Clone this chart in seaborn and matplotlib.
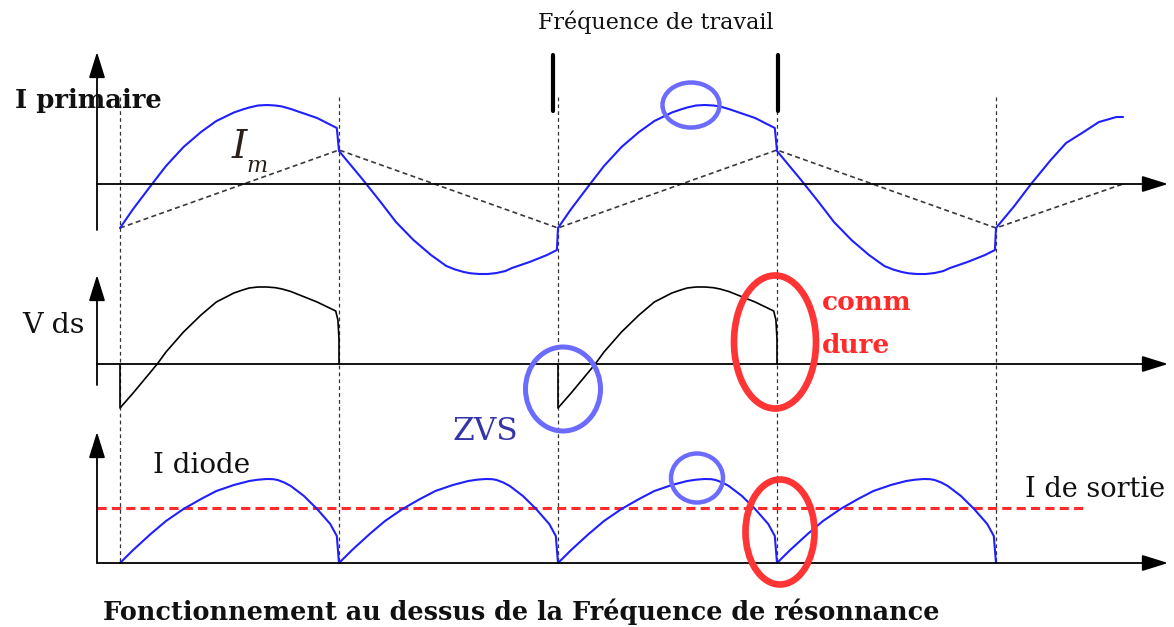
import numpy as np
import pandas as pd
import matplotlib
matplotlib.use("Agg")
import matplotlib.pyplot as plt
import seaborn as sns
from matplotlib.patches import Ellipse
from matplotlib.lines import Line2D

# ---------------------------------------------------------------- data
# time is counted in half switching periods; switching instants:
SWITCH_T = [0, 1, 2, 3, 4]

# primary current: rising half-wave and falling half-wave (t relative to the switching instant)
PRI_RISE_T = [0.00, 0.06, 0.15, 0.21, 0.29, 0.37, 0.44, 0.52, 0.56, 0.59, 0.63, 0.67, 0.71, 0.74, 0.78,
              0.82, 0.90, 0.99, 1.00]
PRI_RISE_V = [-44, -25, 1, 18, 37, 52, 63, 71.5, 74.5, 76.5, 78.5, 79, 78.5, 77.5, 75,
              72, 66, 56, 33]
PRI_FALL_T = [0.00, 0.11, 0.19, 0.26, 0.34, 0.42, 0.49, 0.53, 0.57, 0.60, 0.64, 0.68, 0.72, 0.76, 0.79,
              0.87, 0.95, 0.995, 1.00]
PRI_FALL_V = [33, 4, -18, -38, -56, -71, -82, -85.5, -88, -89.3, -90, -90, -89, -87, -84,
              -78, -71, -66, -44]
PRI_TAIL_T = [0.00, 0.08, 0.16, 0.25, 0.32, 0.40, 0.47, 0.55, 0.58]
PRI_TAIL_V = [-44, -23, 0, 24, 41, 52, 62, 67, 67]
PRI_SEQUENCE = ["rise", "fall", "rise", "fall", "tail"]

# magnetising current Im (triangle)
IM_T = [0, 1, 2, 3, 4, 4.58]
IM_V = [-44, 34, -44, 34, -44, 0]

# drain-source voltage during a conduction half period
VDS_ARC_T = [0.00, 0.00, 0.06, 0.17, 0.21, 0.29, 0.37, 0.44, 0.52, 0.56, 0.59, 0.63, 0.67, 0.71, 0.74,
             0.78, 0.82, 0.90, 0.985, 0.995, 1.00, 1.00]
VDS_ARC_V = [0, -44, -29, 0, 12, 32, 49, 62, 71, 74, 76, 77, 77, 76.3, 75,
             72.5, 69, 62, 53, 44, 25, 0]
VDS_ON = [0, 2]

# rectifier diode current, one arch per half period
DIODE_ARC_T = [0.00, 0.06, 0.14, 0.21, 0.29, 0.37, 0.44, 0.52, 0.59, 0.63, 0.67, 0.70, 0.72, 0.75, 0.78,
               0.84, 0.90, 0.96, 0.99, 1.00]
DIODE_ARC_V = [0, 13, 29, 42, 54, 64, 72, 78, 82, 83.3, 84, 83.8, 83, 80.5, 77,
               67, 54, 39, 27, 0]
DIODE_ON = [0, 1, 2, 3]

# output current level
I_OUT = 55
I_OUT_T_END = 4.40

# ---------------------------------------------------------------- style
sns.set_style("white")
plt.rcParams["font.family"] = ["DejaVu Serif"]

BLUE = "#1f1fff"
RED = "#ff2a2a"
RING_BLUE = "#6b6bff"
RING_RED = "#ff3535"

W, H = 1174, 627
fig = plt.figure(figsize=(W / 100, H / 100), dpi=100)

T0_PX, PX_PER_T = 120, 219
XLIM = (-T0_PX / PX_PER_T, (W - T0_PX) / PX_PER_T)
T_AXIS = (97 - T0_PX) / PX_PER_T
T_ARROW = (1168 - T0_PX) / PX_PER_T
ARROW = dict(arrowstyle="-|>,head_length=1.6,head_width=0.5", color="black",
             lw=1.3, shrinkA=0, shrinkB=0, mutation_scale=10)


def panel(zero_px, top_px, bottom_px):
    ax = fig.add_axes([0, 1 - bottom_px / H, 1, (bottom_px - top_px) / H])
    ax.patch.set_alpha(0)
    ax.set_axis_off()
    return ax, (zero_px - bottom_px, zero_px - top_px)


def finish(ax, ylim):
    ax.set_xlim(*XLIM)
    ax.set_ylim(*ylim)
    ax.set_axis_off()


def axes_arrows(ax, v_bottom, v_top):
    ax.annotate("", xy=(T_ARROW, 0), xytext=(T_AXIS, 0), arrowprops=ARROW, annotation_clip=False)
    ax.annotate("", xy=(T_AXIS, v_top), xytext=(T_AXIS, v_bottom), arrowprops=ARROW, annotation_clip=False)


def trace(ax, t, v, **kw):
    df = pd.DataFrame({"t": t, "v": v})
    sns.lineplot(data=df, x="t", y="v", ax=ax, sort=False, estimator=None, legend=False, **kw)


def text_px(x, y, s, **kw):
    fig.text(x / W, 1 - y / H, s, **kw)


def ring(cx, cy, w, h, color, lw):
    fig.add_artist(Ellipse((cx / W, 1 - cy / H), w / W, h / H, transform=fig.transFigure,
                           fill=False, ec=color, lw=lw))


# switching-instant guides across the three traces
guides = fig.add_axes([0, 0, 1, 1])
guides.patch.set_alpha(0)
guides.set_xlim(*XLIM)
guides.set_ylim(H, 0)
guides.set_axis_off()
guides.vlines(SWITCH_T, 97, 563, colors="#333333", lw=0.9, linestyles=(0, (3, 2.5)))

# ---------------------------------------------------------------- I primaire
ax1, lim1 = panel(184, 40, 290)
arcs = {"rise": (PRI_RISE_T, PRI_RISE_V), "fall": (PRI_FALL_T, PRI_FALL_V), "tail": (PRI_TAIL_T, PRI_TAIL_V)}
pri_t, pri_v = [], []
for start, kind in zip(SWITCH_T, PRI_SEQUENCE):
    tt, vv = arcs[kind]
    pri_t += [start + x for x in tt]
    pri_v += list(vv)
trace(ax1, IM_T, IM_V, color="#3a3a3a", lw=1.2, linestyle=(0, (3, 2)))
trace(ax1, pri_t, pri_v, color=BLUE, lw=1.5)
axes_arrows(ax1, -46, 132)
finish(ax1, lim1)

# ---------------------------------------------------------------- V ds
ax2, lim2 = panel(364, 270, 420)
for start in VDS_ON:
    trace(ax2, [start + x for x in VDS_ARC_T], VDS_ARC_V, color="black", lw=1.2)
axes_arrows(ax2, -21, 89)
finish(ax2, lim2)

# ---------------------------------------------------------------- I diode
ax3, lim3 = panel(563, 425, 600)
dio_t, dio_v = [], []
for start in DIODE_ON:
    dio_t += [start + x for x in DIODE_ARC_T]
    dio_v += DIODE_ARC_V
ax3.hlines(I_OUT, T_AXIS, I_OUT_T_END, colors=RED, lw=2.2, linestyles=(0, (3, 1.7)))
trace(ax3, dio_t, dio_v, color=BLUE, lw=1.5)
axes_arrows(ax3, 0, 131)
finish(ax3, lim3)

# ---------------------------------------------------------------- working frequency markers
for xb in (553, 778):
    fig.add_artist(Line2D([xb / W, xb / W], [1 - 55 / H, 1 - 111 / H], transform=fig.transFigure,
                          color="black", lw=3))

# ---------------------------------------------------------------- rings
ring(691, 105, 57, 45, RING_BLUE, 3.2)
ring(563, 389, 75, 84, RING_BLUE, 3.6)
ring(697, 478, 52, 49, RING_BLUE, 3.2)
ring(775, 342, 82, 133, RING_RED, 4.8)
ring(780, 532, 69, 105, RING_RED, 4.8)

# ---------------------------------------------------------------- labels
text_px(656, 22, "Fréquence de travail", ha="center", va="center", fontsize=16, color="#111111")
text_px(15, 108, "I primaire", ha="left", va="baseline", fontsize=18.6, fontweight="bold", color="#111111")
text_px(232, 158, "I", ha="left", va="baseline", fontsize=28, fontstyle="italic", color="#2a2018")
text_px(246, 172, "m", ha="left", va="baseline", fontsize=16, fontstyle="italic", color="#2a2018")
text_px(22, 333, "V ds", ha="left", va="baseline", fontsize=20.5, color="#111111")
text_px(453, 440, "ZVS", ha="left", va="baseline", fontsize=22.5, color="#3535a8")
text_px(822, 310, "comm", ha="left", va="baseline", fontsize=19, fontweight="bold", color=RED)
text_px(822, 353, "dure", ha="left", va="baseline", fontsize=19, fontweight="bold", color=RED)
text_px(153, 473, "I diode", ha="left", va="baseline", fontsize=20, color="#111111")
text_px(1025, 497, "I de sortie", ha="left", va="baseline", fontsize=19.5, color="#111111")
text_px(103, 620, "Fonctionnement au dessus de la Fréquence de résonnance", ha="left", va="baseline",
        fontsize=18.4, fontweight="bold", color="#111111")

fig.savefig("out.png", dpi=100, facecolor="white")
